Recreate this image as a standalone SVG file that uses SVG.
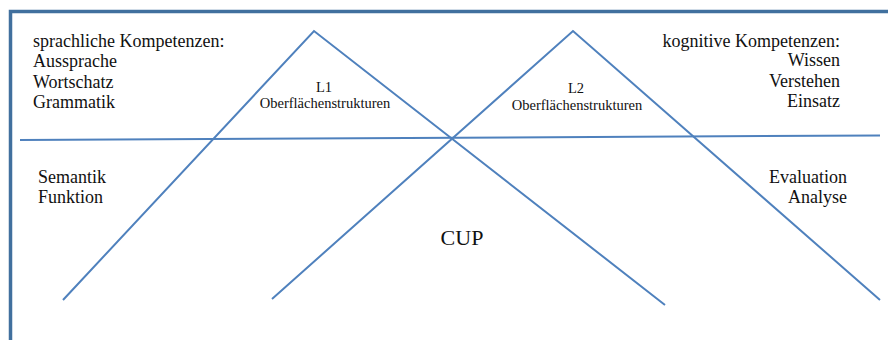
<svg xmlns="http://www.w3.org/2000/svg" width="888" height="340" viewBox="0 0 888 340">
<style>
text{font-family:'Liberation Serif','Times New Roman',Times,'DejaVu Serif','Noto Serif',serif;fill:#111;}
.b{font-size:18px;}
.s{font-size:14.5px;}
.r{text-anchor:end;}
.c{text-anchor:middle;}
.ln{stroke:#4F81BD;stroke-width:2;fill:none;}
</style>
<rect x="0" y="0" width="888" height="340" fill="#fff"/>
<g id="frame"><path d="M10.5,345 V11.5 H900" fill="none" stroke="#41709E" stroke-width="3.5"/></g>
<g id="connectors">
<line class="ln" x1="20" y1="140" x2="880" y2="135.5"/>
<polyline class="ln" points="63,300 314,31 665,305"/>
<polyline class="ln" points="272,299 573,31 880,300"/>
</g>
<g id="left-top"><text class="b" x="33" y="47">sprachliche Kompetenzen:</text>
<text class="b" x="33" y="67">Aussprache</text>
<text class="b" x="33" y="88">Wortschatz</text>
<text class="b" x="33" y="108">Grammatik</text></g>
<g id="right-top"><text class="b r" x="840" y="47">kognitive Kompetenzen:</text>
<text class="b r" x="840" y="66">Wissen</text>
<text class="b r" x="840" y="87">Verstehen</text>
<text class="b r" x="840" y="107">Einsatz</text></g>
<g id="L1"><text class="s c" x="324" y="92">L1</text>
<text class="s c" x="325" y="108">Oberflächenstrukturen</text></g>
<g id="L2"><text class="s c" x="576" y="93">L2</text>
<text class="s c" x="577" y="110">Oberflächenstrukturen</text></g>
<g id="left-bottom"><text class="b" x="38" y="183">Semantik</text>
<text class="b" x="38" y="203">Funktion</text></g>
<g id="right-bottom"><text class="b r" x="847" y="183">Evaluation</text>
<text class="b r" x="847" y="203">Analyse</text></g>
<g id="cup"><text class="c" font-size="22" x="462" y="245">CUP</text></g>
</svg>
